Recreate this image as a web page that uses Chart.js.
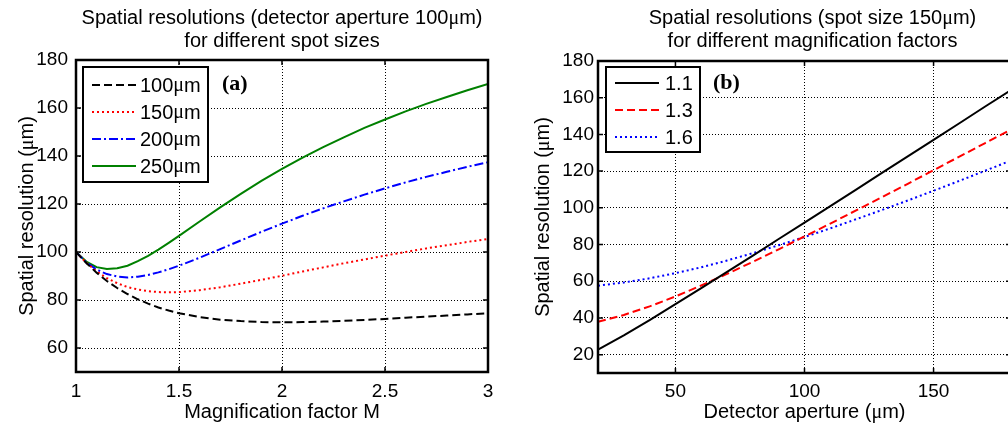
<!DOCTYPE html>
<html>
<head>
<meta charset="utf-8">
<script src="https://cdn.jsdelivr.net/npm/chart.js@4.4.0/dist/chart.umd.min.js"></script>
<style>
  html, body { margin: 0; padding: 0; background: #fff; overflow: hidden; width: 1008px; height: 427px; }
  #wrapA { position: absolute; left: 0; top: 0; width: 504px; height: 427px; }
  #wrapB { position: absolute; left: 504px; top: 0; width: 540px; height: 427px; }
</style>
</head>
<body>
<div id="wrapA"><canvas id="chartA" width="504" height="427"></canvas></div>
<div id="wrapB"><canvas id="chartB" width="540" height="427"></canvas></div>
<script>
// (a) detector aperture 100 um, resolution vs magnification factor M
const magnification = [1.0, 1.05, 1.1, 1.15, 1.2, 1.25, 1.3, 1.35, 1.4, 1.45, 1.5,
  1.6, 1.7, 1.8, 1.9, 2.0, 2.1, 2.2, 2.3, 2.4, 2.5, 2.6, 2.7, 2.8, 2.9, 3.0];
const spot100 = [100, 95.4, 91.4, 87.9, 85.0, 82.5, 80.3, 78.5, 76.9, 75.6, 74.5,
  72.9, 71.8, 71.2, 70.8, 70.7, 70.8, 71.0, 71.3, 71.7, 72.1, 72.6, 73.1, 73.5, 74.0, 74.5];
const spot150 = [100, 95.5, 91.9, 89.1, 87.0, 85.4, 84.4, 83.7, 83.3, 83.2, 83.3,
  84.1, 85.3, 86.8, 88.4, 90.1, 91.9, 93.6, 95.3, 96.9, 98.5, 100.0, 101.5, 102.8, 104.2, 105.4];
const spot200 = [100, 95.7, 92.7, 90.8, 89.8, 89.4, 89.7, 90.4, 91.5, 92.8, 94.3,
  97.6, 101.2, 104.8, 108.4, 111.8, 115.1, 118.2, 121.1, 123.9, 126.5, 129.0, 131.3, 133.4, 135.5, 137.4];
const spot250 = [100, 96.0, 93.7, 92.9, 93.2, 94.3, 96.2, 98.4, 101.0, 103.8, 106.7,
  112.7, 118.6, 124.2, 129.6, 134.6, 139.3, 143.7, 147.8, 151.7, 155.2, 158.6, 161.7, 164.6, 167.4, 170.0];
const xTicksA = [1, 1.5, 2, 2.5, 3];
const yTicksA = [60, 80, 100, 120, 140, 160, 180];

// (b) spot size 150 um, resolution vs detector aperture
const aperture = [20, 30, 40, 50, 60, 70, 80, 90, 100, 110, 120, 130, 140, 150, 160, 170, 180];
const mag11 = [22.7, 30.5, 38.8, 47.5, 56.2, 65.1, 74.0, 83.0, 91.9, 100.9, 109.9, 119.0, 128.0, 137.0, 146.1, 155.2, 164.2];
const mag13 = [37.9, 41.6, 46.3, 51.7, 57.7, 64.0, 70.6, 77.4, 84.4, 91.4, 98.6, 105.8, 113.1, 120.5, 127.9, 135.3, 142.7];
const mag16 = [57.6, 59.3, 61.6, 64.4, 67.6, 71.3, 75.3, 79.6, 84.1, 88.8, 93.8, 98.8, 104.0, 109.3, 114.7, 120.2, 125.8];
const xTicksB = [50, 100, 150];
const yTicksB = [20, 40, 60, 80, 100, 120, 140, 160, 180];

const SANS = '"Liberation Sans", Arial, sans-serif';
const SERIF = '"Liberation Serif", "Times New Roman", serif';
const LABEL_SIZE = 20;
const TICK_SIZE = 19;

function pairs(xs, ys) { return xs.map((x, i) => ({ x: x, y: ys[i] })); }

// Text with the micro sign set in a serif face, the rest in sans
function drawRich(ctx, text, x, y, size, align) {
  const runs = [];
  let cur = '';
  for (const ch of text) {
    if (ch === 'μ') { if (cur) runs.push({ t: cur, f: SANS }); runs.push({ t: ch, f: SERIF }); cur = ''; }
    else cur += ch;
  }
  if (cur) runs.push({ t: cur, f: SANS });
  let total = 0;
  runs.forEach(r => { ctx.font = size + 'px ' + r.f; r.w = ctx.measureText(r.t).width; total += r.w; });
  let cx = align === 'center' ? x - total / 2 : (align === 'right' ? x - total : x);
  ctx.textAlign = 'left';
  runs.forEach(r => { ctx.font = size + 'px ' + r.f; ctx.fillText(r.t, cx, y); cx += r.w; });
}

// Box, inward ticks, titles, legend and panel tag
function decorations(cfg) {
  return {
    id: 'decorations',
    afterDraw(chart) {
      const ctx = chart.ctx, a = chart.chartArea, x = chart.scales.x, y = chart.scales.y;
      ctx.save();
      ctx.strokeStyle = '#000';
      ctx.fillStyle = '#000';
      ctx.setLineDash([]);
      ctx.lineWidth = 1.5;
      ctx.beginPath();
      cfg.xTicks.forEach(v => {
        const px = x.getPixelForValue(v);
        ctx.moveTo(px, a.bottom); ctx.lineTo(px, a.bottom - 5);
        ctx.moveTo(px, a.top); ctx.lineTo(px, a.top + 5);
      });
      cfg.yTicks.forEach(v => {
        const py = y.getPixelForValue(v);
        ctx.moveTo(a.left, py); ctx.lineTo(a.left + 5, py);
        ctx.moveTo(a.right, py); ctx.lineTo(a.right - 5, py);
      });
      ctx.stroke();
      ctx.lineWidth = 2.5;
      ctx.strokeRect(a.left, a.top, a.right - a.left, a.bottom - a.top);

      ctx.textBaseline = 'alphabetic';
      const cx = (a.left + a.right) / 2 + (cfg.titleShift || 0);
      cfg.title.forEach((line, i) => drawRich(ctx, line, cx, cfg.titleY[i], LABEL_SIZE, 'center'));
      drawRich(ctx, cfg.xTitle, (a.left + a.right) / 2, cfg.xTitleY, LABEL_SIZE, 'center');
      ctx.save();
      ctx.translate(cfg.yTitleX, (a.top + a.bottom) / 2);
      ctx.rotate(-Math.PI / 2);
      drawRich(ctx, cfg.yTitle, 0, 0, LABEL_SIZE, 'center');
      ctx.restore();

      const L = cfg.legend;
      ctx.fillStyle = '#fff';
      ctx.fillRect(L.x, L.y, L.w, L.h);
      ctx.lineWidth = 2;
      ctx.strokeStyle = '#000';
      ctx.strokeRect(L.x, L.y, L.w, L.h);
      chart.data.datasets.forEach((ds, i) => {
        const ry = L.rowY[i];
        ctx.strokeStyle = ds.borderColor;
        ctx.lineWidth = ds.borderWidth;
        ctx.setLineDash(ds.borderDash || []);
        ctx.beginPath(); ctx.moveTo(L.x0, ry); ctx.lineTo(L.x1, ry); ctx.stroke();
        ctx.setLineDash([]);
        ctx.fillStyle = '#000';
        ctx.textBaseline = 'middle';
        drawRich(ctx, ds.label, L.tx, ry + 1, LABEL_SIZE, 'left');
      });

      ctx.fillStyle = '#000';
      ctx.textBaseline = 'middle';
      ctx.textAlign = 'left';
      ctx.font = 'bold 22px ' + SERIF;
      ctx.fillText(cfg.panel.text, cfg.panel.x, cfg.panel.y);
      ctx.restore();
    }
  };
}

function axis(min, max, ticks, fit, pad) {
  return {
    type: 'linear', min: min, max: max,
    afterBuildTicks: s => { s.ticks = ticks.map(v => ({ value: v })); },
    afterFit: fit,
    grid: { color: '#000', lineWidth: 1, drawTicks: false },
    border: { display: false, dash: [1, 2] },
    ticks: { autoSkip: false, maxRotation: 0, padding: pad, color: '#000',
      font: { family: SANS, size: TICK_SIZE }, callback: v => String(v) }
  };
}

function makeChart(id, datasets, cfg) {
  return new Chart(document.getElementById(id), {
    type: 'line',
    data: { datasets: datasets },
    options: {
      responsive: false,
      animation: false,
      devicePixelRatio: 1,
      layout: { padding: cfg.padding },
      plugins: { legend: { display: false }, tooltip: { enabled: false }, title: { display: false } },
      elements: { point: { radius: 0 }, line: { tension: 0, fill: false } },
      scales: {
        x: axis(cfg.xMin, cfg.xMax, cfg.xTicks, s => { s.height = cfg.xAxisHeight; }, cfg.xTickPad),
        y: axis(cfg.yMin, cfg.yMax, cfg.yTicks, s => { s.width = cfg.yAxisWidth; }, cfg.yTickPad)
      }
    },
    plugins: [decorations(cfg)]
  });
}

makeChart('chartA', [
  { label: '100μm', data: pairs(magnification, spot100), borderColor: '#000000', borderWidth: 2, borderDash: [8, 4] },
  { label: '150μm', data: pairs(magnification, spot150), borderColor: '#ff0000', borderWidth: 2, borderDash: [2, 3] },
  { label: '200μm', data: pairs(magnification, spot200), borderColor: '#0000ff', borderWidth: 2, borderDash: [9, 3, 2, 3] },
  { label: '250μm', data: pairs(magnification, spot250), borderColor: '#008000', borderWidth: 2 }
], {
  xMin: 1, xMax: 3, yMin: 50, yMax: 180, xTicks: xTicksA, yTicks: yTicksA,
  padding: { left: 0, top: 60, right: 16, bottom: 0 },
  yAxisWidth: 76, xAxisHeight: 55, yTickPad: 8, xTickPad: 8,
  title: ['Spatial resolutions (detector aperture 100μm)', 'for different spot sizes'],
  titleY: [24, 47],
  xTitle: 'Magnification factor M', xTitleY: 418,
  yTitle: 'Spatial resolution (μm)', yTitleX: 33,
  legend: { x: 83, y: 67, w: 125, h: 115, rowY: [85, 112, 139, 166], x0: 92, x1: 136, tx: 140 },
  panel: { text: '(a)', x: 222, y: 84 }
});

makeChart('chartB', [
  { label: '1.1', data: pairs(aperture, mag11), borderColor: '#000000', borderWidth: 2 },
  { label: '1.3', data: pairs(aperture, mag13), borderColor: '#ff0000', borderWidth: 2, borderDash: [8, 4] },
  { label: '1.6', data: pairs(aperture, mag16), borderColor: '#0000ff', borderWidth: 2, borderDash: [2, 3] }
], {
  xMin: 20, xMax: 180, yMin: 10, yMax: 180, xTicks: xTicksB, yTicks: yTicksB,
  padding: { left: 0, top: 61, right: 33, bottom: 0 },
  yAxisWidth: 94, xAxisHeight: 54, yTickPad: 4, xTickPad: 7,
  title: ['Spatial resolutions (spot size 150μm)', 'for different magnification factors'],
  titleY: [24, 47], titleShift: 8,
  xTitle: 'Detector aperture (μm)', xTitleY: 418,
  yTitle: 'Spatial resolution (μm)', yTitleX: 45,
  legend: { x: 102, y: 67, w: 94, h: 85, rowY: [83, 110, 137], x0: 111, x1: 155, tx: 161 },
  panel: { text: '(b)', x: 209, y: 83 }
});
</script>
</body>
</html>
